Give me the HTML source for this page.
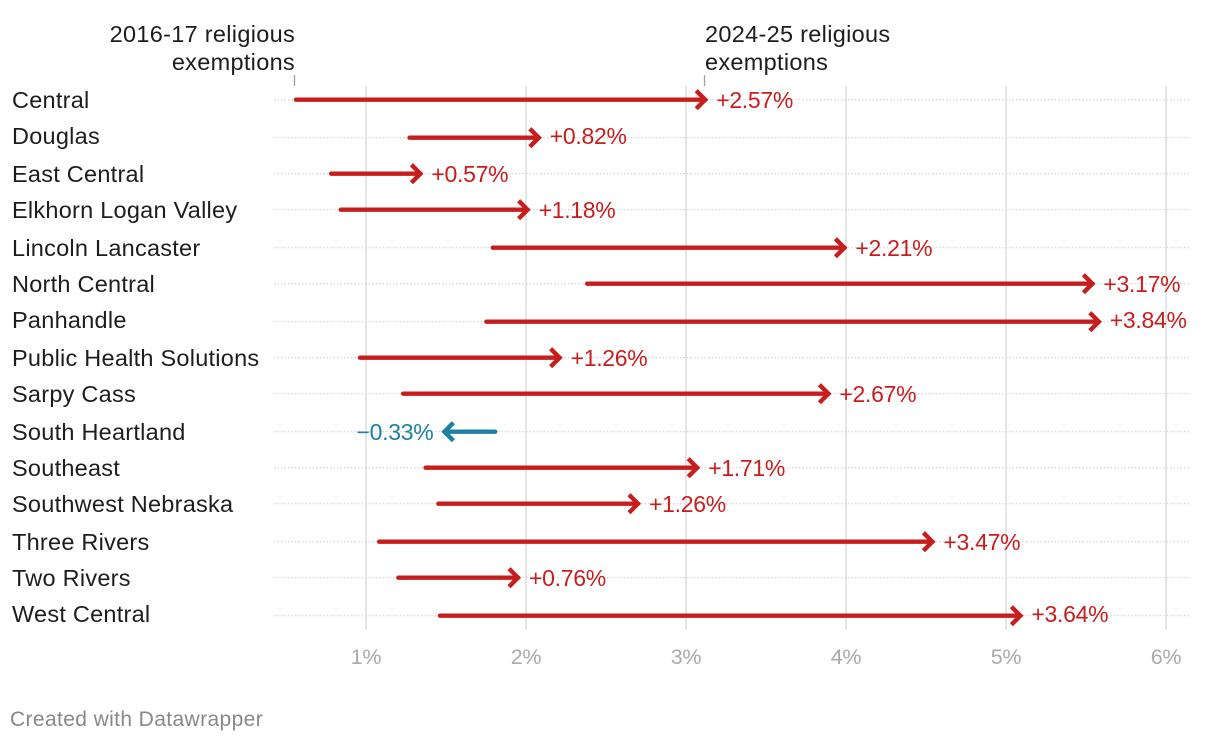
<!DOCTYPE html>
<html>
<head>
<meta charset="utf-8">
<style>
html,body{margin:0;padding:0;background:#fff;width:1220px;height:742px;overflow:hidden}
svg{display:block;font-family:"Liberation Sans",sans-serif}
</style>
</head>
<body>
<svg id="chart" width="1220" height="742" viewBox="0 0 1220 742" xmlns="http://www.w3.org/2000/svg">
<g id="grid"></g>
<g id="rows"></g>
<g id="header">
<text x="295" y="42" text-anchor="end" font-size="23.5" letter-spacing="0.3" fill="#1d1d1d">2016-17 religious</text>
<text x="295" y="70" text-anchor="end" font-size="23.5" letter-spacing="0.3" fill="#1d1d1d">exemptions</text>
<text x="705" y="42" text-anchor="start" font-size="23.5" letter-spacing="0.3" fill="#1d1d1d">2024-25 religious</text>
<text x="705" y="70" text-anchor="start" font-size="23.5" letter-spacing="0.3" fill="#1d1d1d">exemptions</text>
<line x1="294.5" x2="294.5" y1="75" y2="86" stroke="#a0a0a0" stroke-width="1.3"/>
<line x1="704.5" x2="704.5" y1="75" y2="86" stroke="#a0a0a0" stroke-width="1.3"/>
</g>
<g id="labels"></g>
<g id="marks"></g>
<g id="axis"></g>
<text x="10" y="726" font-size="21" letter-spacing="0.38" fill="#888888">Created with Datawrapper</text>
</svg>
<script>
const categories = ["Central","Douglas","East Central","Elkhorn Logan Valley","Lincoln Lancaster","North Central","Panhandle","Public Health Solutions","Sarpy Cass","South Heartland","Southeast","Southwest Nebraska","Three Rivers","Two Rivers","West Central"];
const startValues = [0.55,1.26,0.77,0.83,1.78,2.37,1.74,0.95,1.22,1.82,1.36,1.44,1.07,1.19,1.45];
const changeValues = [2.57,0.82,0.57,1.18,2.21,3.17,3.84,1.26,2.67,-0.33,1.71,1.26,3.47,0.76,3.64];
const changeLabels = ["+2.57%","+0.82%","+0.57%","+1.18%","+2.21%","+3.17%","+3.84%","+1.26%","+2.67%","\u22120.33%","+1.71%","+1.26%","+3.47%","+0.76%","+3.64%"];
const tickValues = [1,2,3,4,5,6];
const tickLabels = ["1%","2%","3%","4%","5%","6%"];

const NS = "http://www.w3.org/2000/svg";
const RED = "#c71e1d", BLUE = "#1d81a2";
function xScale(v){ return 366 + (v - 1) * 160; }
function yBand(i){ return 100.15 + 36.77 * i; }
function yText(i){ return 2 * Math.round(yBand(i) / 2) + 8; }
function yMark(i){ return 2 * Math.round((100.35 + 36.78 * i) / 2) - 0.3; }
function make(tag, attrs, parent){
  const el = document.createElementNS(NS, tag);
  for (const k in attrs) el.setAttribute(k, attrs[k]);
  parent.appendChild(el);
  return el;
}
const gridG = document.getElementById("grid");
const rowsG = document.getElementById("rows");
const labelsG = document.getElementById("labels");
const marksG = document.getElementById("marks");
const axisG = document.getElementById("axis");

tickValues.forEach(function(t, i){
  const line = make("line", {x1:xScale(t), x2:xScale(t), y1:86, y2:630, stroke:"#e5e5e5", "stroke-width":2}, gridG);
  
  
  const label = make("text", {x:xScale(t), y:664, "text-anchor":"middle", "font-size":21.5, "letter-spacing":-0.3, fill:"#aaaaaa"}, axisG);
  
  
  label.textContent = tickLabels[i];
});

categories.forEach(function(name, i){
  const y = yMark(i);
  const guide = make("line", {x1:274, x2:1190, y1:y, y2:y, stroke:"#d2d2d2", "stroke-width":1.2, "stroke-dasharray":"1.5 2"}, rowsG);
  
  

  const label = make("text", {x:12, y:yText(i), "font-size":23.5, "letter-spacing":0.25, fill:"#1d1d1d"}, labelsG);
  
  
  label.textContent = name;

  const x0 = xScale(startValues[i]);
  const x1 = xScale(startValues[i] + changeValues[i]);
  const dir = changeValues[i] >= 0 ? 1 : -1;
  const color = dir > 0 ? RED : BLUE;

  const shaft = make("line", {x1:x0 + dir * 2, x2:x1, y1:y, y2:y, stroke:color, "stroke-width":4.4, "stroke-linecap":"round"}, marksG);
  
  

  const head = make("polyline", {points:(x1 - dir * 9) + "," + (y - 9) + " " + x1 + "," + y + " " + (x1 - dir * 9) + "," + (y + 9), fill:"none", stroke:color, "stroke-width":4.4, "stroke-linejoin":"miter"}, marksG);
  
  

  const value = make("text", {x:x1 + dir * 11, y:yText(i), "text-anchor":dir > 0 ? "start" : "end", "font-size":23, "letter-spacing":-0.3, fill:color}, marksG);
  
  
  value.textContent = changeLabels[i];
});
</script>
</body>
</html>
